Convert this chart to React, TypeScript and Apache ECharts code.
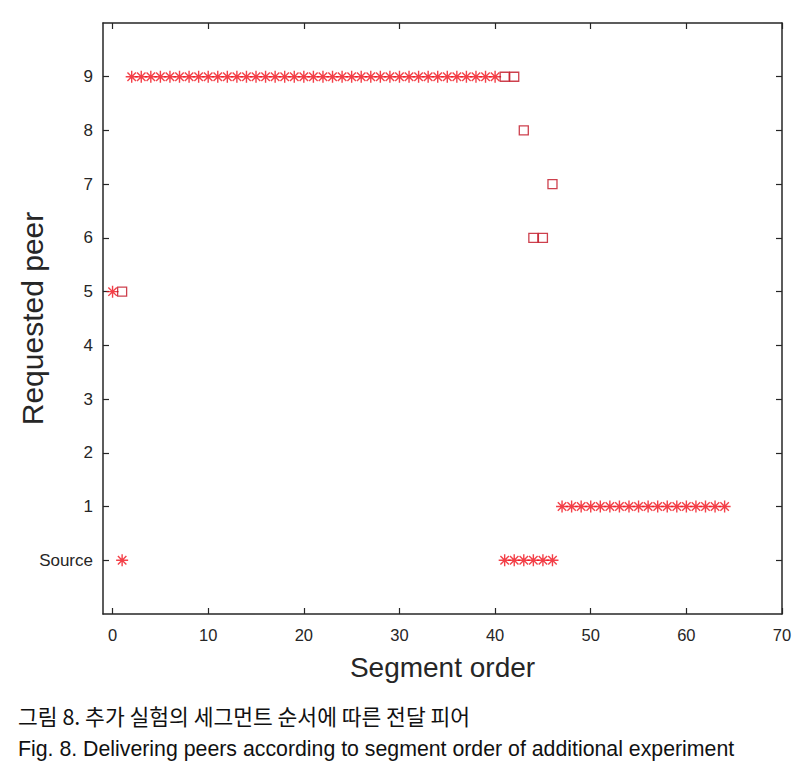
import React, { useEffect, useRef } from "react";
import * as echarts from "echarts";

// Segment order (x) for delivered segments
const segments = [
  0, 1, 2, 3, 4, 5, 6, 7, 8, 9, 10, 11, 12, 13, 14, 15, 16, 17, 18, 19, 20,
  21, 22, 23, 24, 25, 26, 27, 28, 29, 30, 31, 32, 33, 34, 35, 36, 37, 38, 39,
  40, 41, 42, 43, 44, 45, 46, 47, 48, 49, 50, 51, 52, 53, 54, 55, 56, 57, 58,
  59, 60, 61, 62, 63, 64,
];
// Delivering peer per segment (0 = Source)
const deliveredPeer = [
  5, 0, 9, 9, 9, 9, 9, 9, 9, 9, 9, 9, 9, 9, 9, 9, 9, 9, 9, 9, 9,
  9, 9, 9, 9, 9, 9, 9, 9, 9, 9, 9, 9, 9, 9, 9, 9, 9, 9, 9,
  9, 0, 0, 0, 0, 0, 0, 1, 1, 1, 1, 1, 1, 1, 1, 1, 1, 1, 1,
  1, 1, 1, 1, 1, 1,
];
// Requested (failed) peers
const requestSegments = [1, 41, 42, 43, 44, 45, 46];
const requestPeer = [5, 9, 9, 8, 6, 6, 7];

const xTicks = [0, 10, 20, 30, 40, 50, 60, 70];
const yTicks = [0, 1, 2, 3, 4, 5, 6, 7, 8, 9];
const yTickLabels = ["Source", "1", "2", "3", "4", "5", "6", "7", "8", "9"];

const captionKo = "그림 8. 추가 실험의 세그먼트 순서에 따른 전달 피어";
const captionEn =
  "Fig. 8. Delivering peers according to segment order of additional experiment";

const AXIS_COLOR = "#262626";
const FONT = "'Liberation Sans', Arial, sans-serif";
const ASTERISK =
  "path://M0,-10L0,10M-10,0L10,0M-7.07,-7.07L7.07,7.07M-7.07,7.07L7.07,-7.07";

export default function App() {
  const ref = useRef<HTMLDivElement>(null);

  useEffect(() => {
    if (!ref.current) return;
    const chart = echarts.init(ref.current, undefined, { renderer: "svg" });

    const axisLine = { show: true, onZero: false, lineStyle: { color: AXIS_COLOR, width: 1.5 } };
    const tickStyle = { color: AXIS_COLOR, width: 1.2 };

    const option: any = {
      animation: false,
      backgroundColor: "#ffffff",
      grid: {
        left: 103,
        top: 23,
        width: 679,
        height: 591,
        show: false,
        containLabel: false,
        outerBoundsMode: "none",
      },
      xAxis: [
        {
          type: "value",
          min: -1,
          max: 70,
          position: "bottom",
          axisLine,
          splitLine: { show: false },
          axisTick: { show: true, inside: true, length: 6, customValues: xTicks, lineStyle: tickStyle },
          axisLabel: {
            show: true,
            customValues: xTicks,
            margin: 12,
            color: AXIS_COLOR,
            fontSize: 16.5,
            fontFamily: FONT,
          },
          name: "Segment order",
          nameLocation: "middle",
          nameGap: 39,
          nameMoveOverlap: false,
          nameTextStyle: { fontSize: 28, color: AXIS_COLOR, fontFamily: FONT },
        },
        {
          type: "value",
          min: -1,
          max: 70,
          position: "top",
          axisLine,
          splitLine: { show: false },
          axisTick: { show: true, inside: true, length: 6, customValues: xTicks, lineStyle: tickStyle },
          axisLabel: { show: false },
        },
      ],
      yAxis: [
        {
          type: "value",
          min: -1,
          max: 10,
          position: "left",
          axisLine,
          splitLine: { show: false },
          axisTick: { show: true, inside: true, length: 6, customValues: yTicks, lineStyle: tickStyle },
          axisLabel: {
            show: true,
            customValues: yTicks,
            margin: 10,
            color: AXIS_COLOR,
            fontSize: 17,
            fontFamily: FONT,
            formatter: (v: number) => {
              const i = yTicks.indexOf(Math.round(v));
              return i >= 0 ? yTickLabels[i] : "";
            },
          },
          name: "Requested peer",
          nameLocation: "middle",
          nameGap: 56,
          nameMoveOverlap: false,
          nameTextStyle: { fontSize: 30, color: AXIS_COLOR, fontFamily: FONT },
        },
        {
          type: "value",
          min: -1,
          max: 10,
          position: "right",
          axisLine,
          splitLine: { show: false },
          axisTick: { show: true, inside: true, length: 6, customValues: yTicks, lineStyle: tickStyle },
          axisLabel: { show: false },
        },
      ],
      series: [
        {
          type: "scatter",
          name: "Delivered",
          xAxisIndex: 0,
          yAxisIndex: 0,
          symbol: ASTERISK,
          symbolSize: 12,
          symbolKeepAspect: true,
          itemStyle: {
            color: "rgba(0,0,0,0)",
            borderColor: "#f0101a",
            borderWidth: 1.4,
          },
          data: segments.map((s, i) => [s, deliveredPeer[i]]),
        },
        {
          type: "scatter",
          name: "Requested",
          xAxisIndex: 0,
          yAxisIndex: 0,
          symbol: "rect",
          symbolSize: 9,
          itemStyle: {
            color: "rgba(0,0,0,0)",
            borderColor: "#c01020",
            borderWidth: 1.3,
          },
          data: requestSegments.map((s, i) => [s, requestPeer[i]]),
        },
      ],
      graphic: [
        {
          type: "text",
          left: 18,
          top: 705,
          style: {
            text: captionKo,
            fontSize: 21.5,
            fill: "#111111",
            fontFamily: "'Noto Sans CJK KR', sans-serif",
          },
        },
        {
          type: "text",
          left: 18,
          top: 738,
          style: {
            text: captionEn,
            fontSize: 21.3,
            fill: "#111111",
            fontFamily: FONT,
          },
        },
      ],
    };

    chart.setOption(option);
    return () => chart.dispose();
  }, []);

  return (
    <div
      ref={ref}
      style={{ position: "fixed", left: 0, top: 0, width: 809, height: 775 }}
    />
  );
}
